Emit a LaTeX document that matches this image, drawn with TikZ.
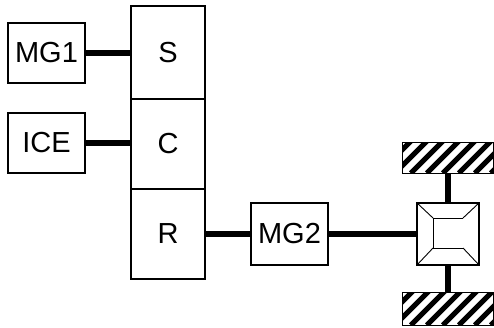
\documentclass[tikz,border=0pt]{standalone}
\usepackage{fontspec}
\setmainfont{Liberation Sans}
\begin{document}
\begin{tikzpicture}[x=1pt,y=-1pt,
  box/.style={draw,line width=1.2pt,inner sep=0pt,font=\fontsize{29}{29}\selectfont},
  shaft/.style={line width=6pt},
  thin/.style={line width=1.2pt}]
\useasboundingbox (0,0) rectangle (494,327);
% boxes
\node[box,minimum width=77pt,minimum height=60pt] (mg1) at (46.5,53) {MG1};
\node[box,minimum width=77pt,minimum height=60pt] (ice) at (46.5,143) {ICE};
\node[box,minimum width=74pt,minimum height=93pt] (s) at (168,52.5) {S};
\node[box,minimum width=74pt,minimum height=90pt] (c) at (168,144) {C};
\node[box,minimum width=74pt,minimum height=90pt] (r) at (168,234) {R};
\node[box,minimum width=77pt,minimum height=62pt] (mg2) at (289.5,234) {MG2};
\node[draw,thin,inner sep=0pt,minimum width=62pt,minimum height=62pt] (diff) at (448,234) {};
\node[inner sep=0pt,minimum width=90pt,minimum height=30pt] (wt) at (448,158) {};
\node[inner sep=0pt,minimum width=90pt,minimum height=32pt] (wb) at (448,309) {};
% hatching of wheels
\foreach \w in {wt,wb}{
  \begin{scope}
    \clip (\w.south west) rectangle (\w.north east);
    \foreach \k in {-40,-24,...,120}
      \draw[line width=5pt] ([xshift=\k pt]\w.south west) -- ++(40,-40);
  \end{scope}
  \draw[thin] (\w.south west) rectangle (\w.north east);
}
% differential inner drawing
\coordinate (i1) at (433,218);
\coordinate (i2) at (463,218);
\coordinate (i3) at (463,248);
\coordinate (i4) at (433,248);
\draw[line width=0.9pt] (i2) -- (i1) -- (i4) -- (i3);
\draw[line width=0.9pt] (diff.north west) -- (i1);
\draw[line width=0.9pt] (diff.south west) -- (i4);
\draw[line width=0.9pt] (diff.north east) -- (i2);
\draw[line width=0.9pt] (diff.south east) -- (i3);
% shafts
\draw[shaft] (mg1.east) -- (mg1.east -| s.west);
\draw[shaft] (ice.east) -- (ice.east -| c.west);
\draw[shaft] (r.east) -- (mg2.west);
\draw[shaft] (mg2.east) -- (diff.west);
\draw[shaft] (wt.south) -- (diff.north);
\draw[shaft] (diff.south) -- (wb.north);
\end{tikzpicture}
\end{document}
